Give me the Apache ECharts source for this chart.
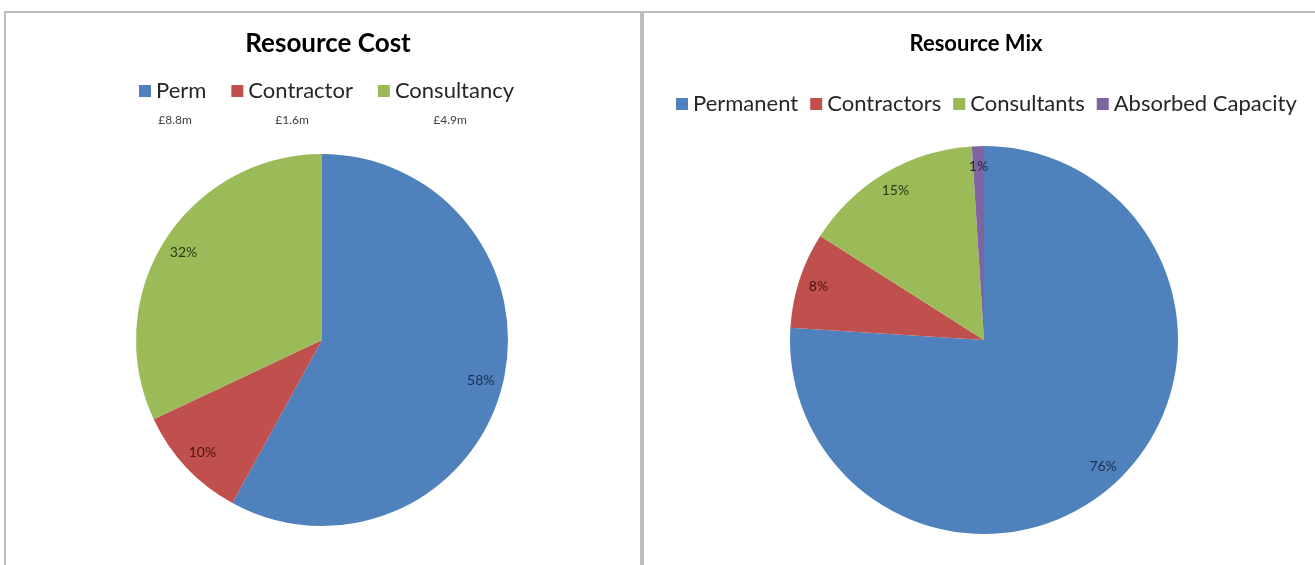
<!DOCTYPE html>
<html>
<head>
<meta charset="utf-8">
<script src="https://cdn.jsdelivr.net/npm/echarts@6/dist/echarts.min.js"></script>
<style>
  html, body { margin: 0; padding: 0; background: #fff; }
  #chart { width: 1315px; height: 565px; }
</style>
</head>
<body>
<div id="chart"></div>
<script>
// Resource Cost (share of spend, %)
const costNames = ['Perm', 'Contractor', 'Consultancy'];
const costShare = [58, 10, 32];
const costAmounts = ['£8.8m', '£1.6m', '£4.9m'];

// Resource Mix (share of headcount, %)
const mixNames = ['Permanent', 'Contractors', 'Consultants', 'Absorbed Capacity'];
const mixShare = [76, 8, 15, 1];

const costColors = ['#4F81BD', '#C0504D', '#9BBB59'];
const mixColors = ['#4F81BD', '#C0504D', '#9BBB59', '#8064A2'];
const labelColors = { '#4F81BD': '#1c2f4d', '#C0504D': '#4a1512', '#9BBB59': '#2c3a10', '#8064A2': '#2a1d3d' };

const FONT = 'Lato, "Open Sans", sans-serif';

function sliceData(names, values, colors) {
  return names.map((n, i) => ({ name: n, value: values[i], itemStyle: { color: colors[i] } }));
}
function labelData(names, values, colors) {
  return names.map((n, i) => ({
    name: n, value: values[i],
    label: { color: labelColors[colors[i]] }
  }));
}
function legendData(names, colors) {
  return names.map((n, i) => ({ name: n, itemStyle: { color: colors[i] } }));
}

const pieBase = {
  type: 'pie',
  startAngle: 90,
  clockwise: true,
  avoidLabelOverlap: false,
  labelLine: { show: false },
  emphasis: { disabled: true },
  animation: false
};

const chart = echarts.init(document.getElementById('chart'), null, { renderer: 'canvas' });

chart.setOption({
  backgroundColor: '#ffffff',
  graphic: [
    { type: 'rect', shape: { x: 5, y: 12, width: 636, height: 600 },
      style: { fill: 'none', stroke: '#a6a6a6', lineWidth: 1.5 }, silent: true },
    { type: 'rect', shape: { x: 643, y: 12, width: 700, height: 600 },
      style: { fill: 'none', stroke: '#a6a6a6', lineWidth: 1.5 }, silent: true },
    // spend amounts under the cost legend
    ...costAmounts.map((t, i) => ({
      type: 'text', x: [175, 292, 450][i], y: 120,
      style: { text: t, fill: '#404040', font: '12px ' + FONT, align: 'center', verticalAlign: 'middle' },
      silent: true
    }))
  ],
  title: [
    { text: 'Resource Cost', left: 323, top: 26, textAlign: 'center',
      textStyle: { fontFamily: FONT, fontWeight: 'bold', fontSize: 26, color: '#000' } },
    { text: 'Resource Mix', left: 971, top: 28, textAlign: 'center',
      textStyle: { fontFamily: FONT, fontWeight: 'bold', fontSize: 22, color: '#000' } }
  ],
  legend: [
    { data: legendData(costNames, costColors), left: 134, top: 75,
      icon: 'rect', itemWidth: 12, itemHeight: 12, itemGap: 25,
      textStyle: { fontFamily: FONT, fontSize: 22, color: '#262626' }, selectedMode: false },
    { data: legendData(mixNames, mixColors), left: 671, top: 88,
      icon: 'rect', itemWidth: 12, itemHeight: 12, itemGap: 12,
      textStyle: { fontFamily: FONT, fontSize: 22, color: '#262626' }, selectedMode: false }
  ],
  series: [
    Object.assign({}, pieBase, {
      name: 'Resource Cost', center: [322, 340], radius: [0, 186],
      data: sliceData(costNames, costShare, costColors),
      label: { show: false }
    }),
    Object.assign({}, pieBase, {
      name: 'Resource Mix', center: [984, 340], radius: [0, 194],
      data: sliceData(mixNames, mixShare, mixColors),
      label: { show: false }
    }),
    // label rings: percentage text sits near the outer edge of each slice
    Object.assign({}, pieBase, {
      name: 'Resource Cost labels', center: [322, 340], radius: [136, 186], silent: true,
      itemStyle: { color: 'rgba(0,0,0,0)' },
      data: labelData(costNames, costShare, costColors),
      label: { show: true, position: 'inside', formatter: '{c}%', fontFamily: FONT, fontSize: 14 }
    }),
    Object.assign({}, pieBase, {
      name: 'Resource Mix labels', center: [984, 340], radius: [148, 194], silent: true,
      itemStyle: { color: 'rgba(0,0,0,0)' },
      data: labelData(mixNames, mixShare, mixColors),
      label: { show: true, position: 'inside', formatter: '{c}%', fontFamily: FONT, fontSize: 14 }
    })
  ]
});
</script>
</body>
</html>
